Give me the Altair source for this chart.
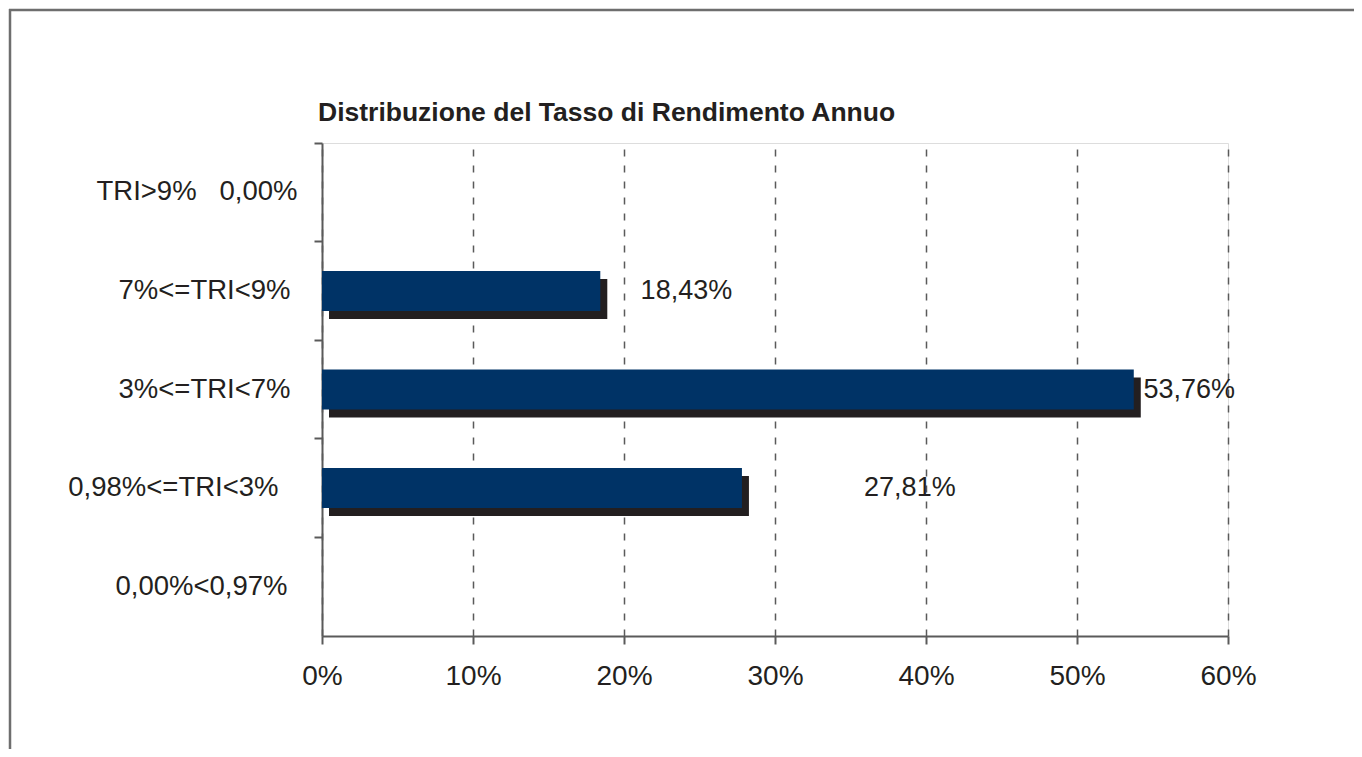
import altair as alt
import pandas as pd

# ---- data ----
categories = ["TRI>9%\u00a0\u00a0 0,00%", "7%<=TRI<9%", "3%<=TRI<7%", "0,98%<=TRI<3%", "0,00%<0,97%"]
values = [0.0, 18.43, 53.76, 27.81, 0.0]
value_labels = ["", "18,43%", "53,76%", "27,81%", ""]
label_at = [0.0, 21.1, 54.4, 35.9, 0.0]          # where each value label starts (in %)
x_ticks = [0, 10, 20, 30, 40, 50, 60]
title_text = "Distribuzione del Tasso di Rendimento Annuo"

df = pd.DataFrame({"cat": categories, "val": values, "lab": value_labels, "lab_x": label_at})
lab_df = df[df["lab"] != ""]

W, H = 906, 493
PAD = {"left": 314, "top": 135, "right": 126, "bottom": 113}
FONT = "Liberation Sans"
INK = "#231f20"
GRID = "#5a5a5a"

x_scale = alt.Scale(domain=[0, 60], nice=False, zero=True)
y_scale = alt.Scale(domain=categories, paddingInner=0, paddingOuter=0)

x_axis = alt.Axis(
    title=None, values=x_ticks, labelExpr="datum.value + '%'",
    grid=True, gridDash=[7, 9], gridColor=GRID, gridWidth=1.5,
    domainColor=GRID, domainWidth=2, tickColor=GRID, tickWidth=2, tickSize=8,
    labelFont=FONT, labelFontSize=28, labelColor=INK, labelPadding=18,
    labelFlush=False,
)
y_axis = alt.Axis(
    title=None, bandPosition=0,
    domainColor=GRID, domainWidth=2, tickColor=GRID, tickWidth=2, tickSize=8,
    labelFont=FONT, labelFontSize=27.5, labelColor=INK,
    labelPadding={
        "condition": [
            {"test": f"datum.value == '{categories[0]}'", "value": 17},
            {"test": f"datum.value == '{categories[3]}'", "value": 36},
            {"test": f"datum.value == '{categories[4]}'", "value": 27},
        ],
        "value": 24,
    },
    labelLimit=0, grid=False,
)

base = alt.Chart(df)

shadow = base.mark_bar(size=40, color=INK, xOffset=7, x2Offset=7, yOffset=8, y2Offset=8).encode(
    x=alt.X("val:Q", scale=x_scale, axis=x_axis),
    y=alt.Y("cat:N", sort=categories, scale=y_scale, axis=y_axis),
)
main = base.mark_bar(size=40, color="#003366").encode(
    x=alt.X("val:Q", scale=x_scale, axis=x_axis),
    y=alt.Y("cat:N", sort=categories, scale=y_scale, axis=y_axis),
)
labels = alt.Chart(lab_df).mark_text(
    align="left", baseline="middle", font=FONT, fontSize=27, color=INK
).encode(
    x=alt.X("lab_x:Q", scale=x_scale),
    y=alt.Y("cat:N", sort=categories, scale=y_scale),
    text="lab:N",
)

one = pd.DataFrame({"k": [0]})
title = alt.Chart(one).mark_text(
    align="left", baseline="alphabetic", font=FONT, fontSize=26.5, fontWeight="bold", color=INK
).encode(x=alt.value(-4), y=alt.value(-22.5), text=alt.value(title_text))

frame_top = alt.Chart(one).mark_rule(color="#6e6e6e", strokeWidth=2.5).encode(
    x=alt.value(-313), x2=alt.value(W + PAD["right"]), y=alt.value(-133)
)
frame_left = alt.Chart(one).mark_rule(color="#6e6e6e", strokeWidth=2.5).encode(
    x=alt.value(-312), y=alt.value(-134), y2=alt.value(H + PAD["bottom"])
)

chart = alt.layer(shadow, main, labels, title, frame_top, frame_left).properties(
    width=W, height=H, padding=PAD, autosize="none",
).configure_view(stroke=None).configure(background="white")

chart.save("out.html", embed_options={"renderer": "svg", "actions": False})
